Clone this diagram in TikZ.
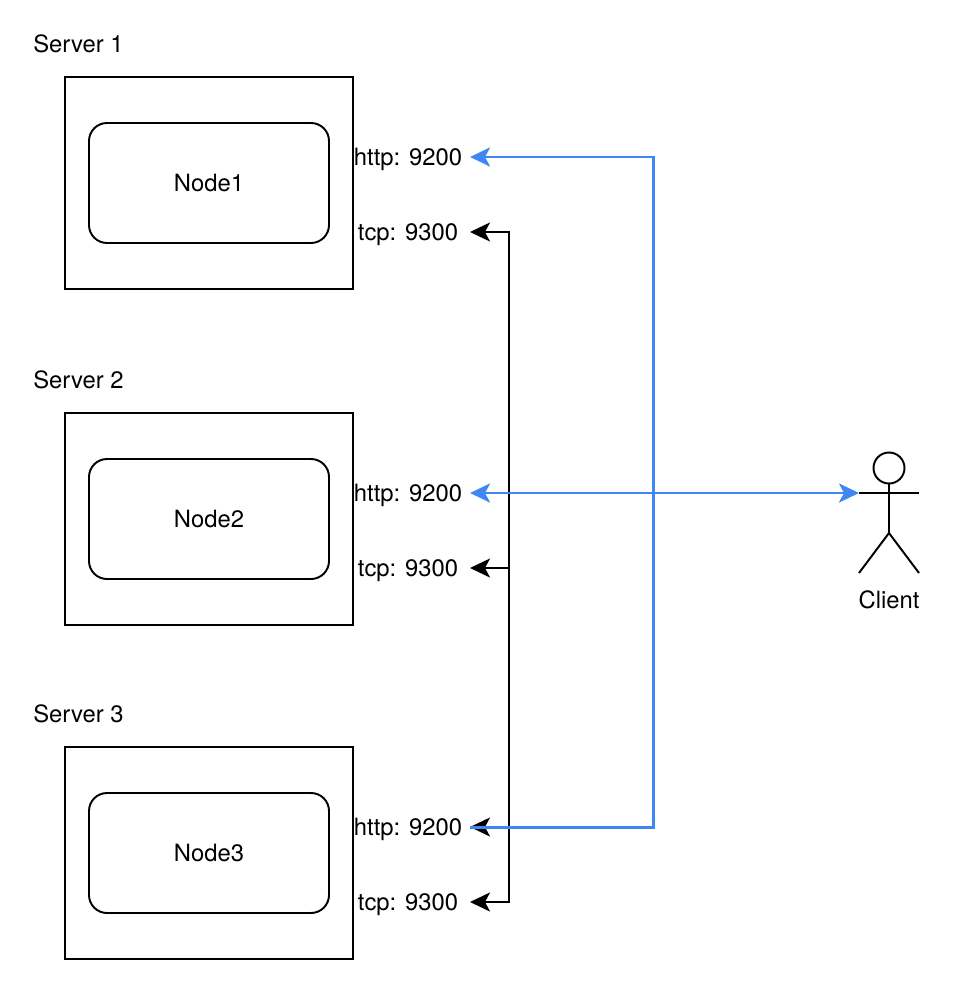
\documentclass[tikz,border=0pt]{standalone}
\usepackage{fontspec}
\setmainfont{TeX Gyre Heros}
\usetikzlibrary{arrows.meta}
\definecolor{clientblue}{HTML}{3F87F5}
\tikzset{
  label/.style={font=\fontsize{13.55}{16}\selectfont,inner sep=0pt},
  server/.style={draw,line width=1.1pt,minimum width=5.76cm,minimum height=4.24cm,inner sep=0pt},
  esnode/.style={draw,line width=1.1pt,rounded corners=0.36cm,minimum width=4.8cm,minimum height=2.4cm,label},
  port/.style={label,minimum width=2.48cm,text height=0.34cm,text depth=0cm,outer sep=0pt},
  porttip/.tip={Stealth[length=0.4cm,width=0.38cm,inset=0.1cm]},
  tcpline/.style={line width=1.1pt,-porttip},
  httpline/.style={line width=1.7pt,clientblue},
}
\begin{document}
\begin{tikzpicture}
  \useasboundingbox (0,0) rectangle (19.4,-19.92);

  % server 1
  \node[label,anchor=west] (title1) at (0.66,-0.88) {Server 1};
  \node[server] (server1) at (4.18,-3.66) {};
  \node[esnode] (node1) at (4.18,-3.66) {Node1};
  \node[port] (http1) at (8.16,-3.14) {http: 9200};
  \node[port] (tcp1) at (8.16,-4.64) {tcp: 9300};

  % server 2
  \node[label,anchor=west] (title2) at (0.66,-7.6) {Server 2};
  \node[server] (server2) at (4.18,-10.38) {};
  \node[esnode] (node2) at (4.18,-10.38) {Node2};
  \node[port] (http2) at (8.16,-9.86) {http: 9200};
  \node[port] (tcp2) at (8.16,-11.36) {tcp: 9300};

  % server 3
  \node[label,anchor=west] (title3) at (0.66,-14.28) {Server 3};
  \node[server] (server3) at (4.18,-17.06) {};
  \node[esnode] (node3) at (4.18,-17.06) {Node3};
  \node[port] (http3) at (8.16,-16.54) {http: 9200};
  \node[port] (tcp3) at (8.16,-18.04) {tcp: 9300};

  % client
  \node[draw,circle,line width=1.1pt,minimum size=0.62cm,inner sep=0pt] (head) at (17.78,-9.36) {};
  \coordinate (hip) at (17.78,-10.66);
  \coordinate (armL) at (17.18,-9.86);
  \coordinate (armR) at (18.38,-9.86);
  \coordinate (footL) at (17.18,-11.46);
  \coordinate (footR) at (18.38,-11.46);
  \draw[line width=1.1pt] (head.south) -- (hip);
  \draw[line width=1.1pt] (armL) -- (armR);
  \draw[line width=1.1pt] (footL) -- (hip) -- (footR);
  \node[label] (client) at (17.78,-12) {Client};

  % rete tcp
  \coordinate (tcpbus) at (10.18,-11.36);
  \draw[tcpline] (tcpbus) |- (tcp1);
  \draw[tcpline] (tcpbus) -- (tcp2);
  \draw[tcpline] (tcpbus) |- (http3);
  \draw[tcpline] (tcpbus) |- (tcp3);

  % rete http
  \coordinate (httpbus) at (13.06,-9.86);
  \draw[httpline,-porttip] (httpbus) |- (http1);
  \draw[httpline] (httpbus) |- (http3);
  \draw[httpline,porttip-porttip] (http2) -- (armL);
\end{tikzpicture}
\end{document}
